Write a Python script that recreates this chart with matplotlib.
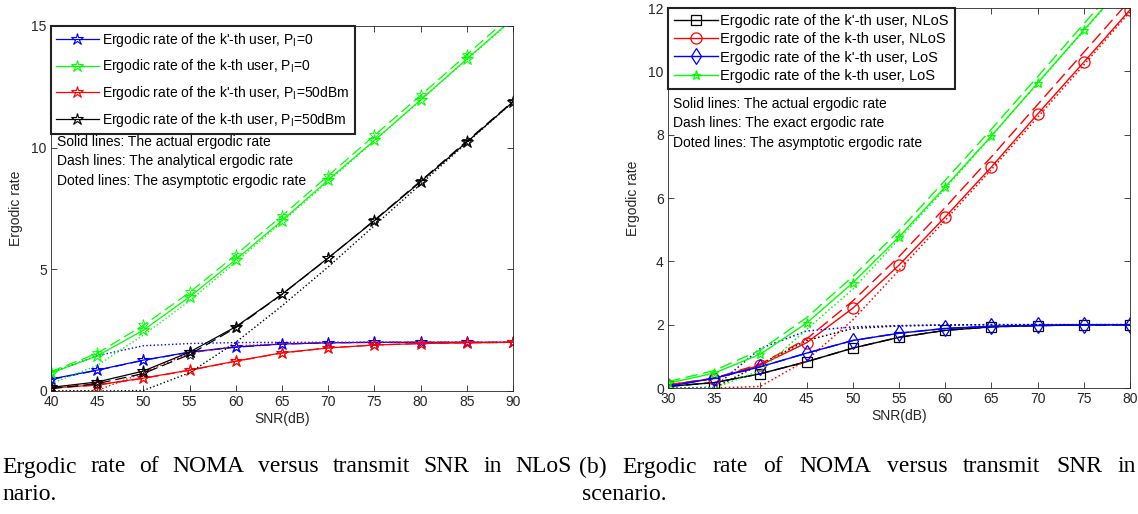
import matplotlib
matplotlib.use('Agg')
import matplotlib.pyplot as plt
import numpy as np

plt.rcParams['font.family'] = ['Liberation Sans', 'DejaVu Sans']

# ---- (a) NLoS scenario ----
snr_a = [40, 45, 50, 55, 60, 65, 70, 75, 80, 85, 90]

blue_act = [0.49, 0.86, 1.27, 1.60, 1.81, 1.93, 1.98, 2.0, 2.0, 2.0, 2.0]
blue_ana = [0.47, 0.85, 1.26, 1.59, 1.80, 1.93, 1.98, 2.0, 2.0, 2.0, 2.0]
blue_asy = [0.75, 1.45, 1.86, 1.95, 1.99, 2.0, 2.0, 2.0, 2.0, 2.0, 2.0]

green_act = [0.74, 1.44, 2.50, 3.87, 5.40, 7.00, 8.67, 10.30, 11.96, 13.64, 15.30]
green_ana = [0.80, 1.55, 2.70, 4.05, 5.60, 7.20, 8.85, 10.50, 12.15, 13.82, 15.50]
green_asy = [0.30, 1.05, 2.30, 3.70, 5.30, 6.95, 8.62, 10.28, 11.95, 13.62, 15.28]

red_act = [0.12, 0.25, 0.53, 0.86, 1.23, 1.57, 1.77, 1.89, 1.95, 1.98, 2.0]
red_ana = [0.12, 0.24, 0.52, 0.85, 1.22, 1.56, 1.77, 1.89, 1.95, 1.98, 2.0]
red_asy = [0.0, 0.02, 0.75, 1.55, 1.85, 1.95, 1.99, 2.0, 2.0, 2.0, 2.0]

black_act = [0.15, 0.37, 0.82, 1.60, 2.64, 3.98, 5.47, 7.00, 8.60, 10.23, 11.88]
black_ana = [0.10, 0.30, 0.72, 1.50, 2.60, 3.97, 5.46, 7.02, 8.63, 10.27, 11.90]
black_asy = [0.0, 0.0, 0.02, 0.75, 2.0, 3.50, 5.10, 6.80, 8.50, 10.20, 11.88]

labels_a = ["Ergodic rate of the k'-th user, P$_\\mathregular{I}$=0",
            "Ergodic rate of the k-th user, P$_\\mathregular{I}$=0",
            "Ergodic rate of the k'-th user, P$_\\mathregular{I}$=50dBm",
            "Ergodic rate of the k-th user, P$_\\mathregular{I}$=50dBm"]

# ---- (b) NLoS vs LoS ----
snr_b = [30, 35, 40, 45, 50, 55, 60, 65, 70, 75, 80]

kp_nlos_act = [0.05, 0.17, 0.45, 0.83, 1.26, 1.60, 1.82, 1.93, 1.97, 1.99, 2.0]
kp_nlos_ana = [0.05, 0.17, 0.45, 0.83, 1.26, 1.60, 1.82, 1.93, 1.97, 1.99, 2.0]
kp_nlos_asy = [0.0, 0.0, 0.75, 1.50, 1.88, 1.96, 1.99, 2.0, 2.0, 2.0, 2.0]

k_nlos_act = [0.10, 0.30, 0.72, 1.43, 2.52, 3.88, 5.40, 6.98, 8.65, 10.29, 11.94]
k_nlos_ana = [0.10, 0.31, 0.76, 1.55, 2.75, 4.15, 5.70, 7.30, 8.95, 10.60, 12.25]
k_nlos_asy = [0.0, 0.0, 0.05, 0.88, 2.15, 3.72, 5.30, 6.90, 8.55, 10.20, 11.88]

kp_los_act = [0.05, 0.31, 0.67, 1.10, 1.50, 1.73, 1.88, 1.95, 1.98, 2.0, 2.0]
kp_los_ana = [0.05, 0.31, 0.67, 1.10, 1.50, 1.73, 1.88, 1.95, 1.98, 2.0, 2.0]
kp_los_asy = [0.0, 0.02, 1.25, 1.80, 1.93, 1.97, 1.99, 2.0, 2.0, 2.0, 2.0]

k_los_act = [0.15, 0.47, 1.07, 2.05, 3.32, 4.77, 6.35, 7.96, 9.63, 11.30, 12.95]
k_los_ana = [0.20, 0.55, 1.20, 2.22, 3.52, 4.97, 6.56, 8.17, 9.83, 11.50, 13.15]
k_los_asy = [0.0, 0.0, 0.55, 1.85, 3.12, 4.70, 6.30, 7.95, 9.62, 11.28, 12.95]

labels_b = ["Ergodic rate of the k'-th user, NLoS",
            "Ergodic rate of the k-th user, NLoS",
            "Ergodic rate of the k'-th user, LoS",
            "Ergodic rate of the k-th user, LoS"]

notes_a = ["Solid lines: The actual ergodic rate",
           "Dash lines: The analytical ergodic rate",
           "Doted lines: The asymptotic ergodic rate"]
notes_b = ["Solid lines: The actual ergodic rate",
           "Dash lines: The exact ergodic rate",
           "Doted lines: The asymptotic ergodic rate"]

caption_a = "Ergodic rate of NOMA versus transmit SNR in NLoS"
caption_b = "(b) Ergodic rate of NOMA versus transmit SNR in"

W, H = 1138, 514
fig = plt.figure(figsize=(W / 100, H / 100), dpi=100)

def box(l, t, r, b):
    return [l / W, 1 - b / H, (r - l) / W, (b - t) / H]

axcol = '#262626'
fs = 10

def style(ax):
    for s in ax.spines.values():
        s.set_color(axcol)
        s.set_linewidth(0.6)
    ax.tick_params(direction='in', top=True, right=True, colors=axcol,
                   labelsize=fs, length=4, width=0.6, pad=3)
    ax.set_xlabel('SNR(dB)', fontsize=fs, color=axcol, labelpad=2)
    ax.set_ylabel('Ergodic rate', fontsize=fs, color=axcol, labelpad=6)

dash = (0, (9, 4))

# ---------------- left panel ----------------
ax1 = fig.add_axes(box(51, 26, 513, 391))
handles = []
for col, act, ana, asy in [('#0000ff', blue_act, blue_ana, blue_asy),
                           ('#00ff00', green_act, green_ana, green_asy),
                           ('#ff0000', red_act, red_ana, red_asy),
                           ('#000000', black_act, black_ana, black_asy)]:
    h, = ax1.plot(snr_a, act, '-', color=col, lw=0.9, marker='*', ms=9,
                  mfc='none', mew=0.8)
    ax1.plot(snr_a, ana, linestyle=dash, color=col, lw=0.9, marker='*', ms=8,
             mfc='none', mew=0.6)
    ax1.plot(snr_a, asy, ':', color=col, lw=1.0)
    handles.append(h)
ax1.set_xlim(40, 90)
ax1.set_ylim(0, 15)
ax1.set_xticks(snr_a)
ax1.set_yticks([0, 5, 10, 15])
style(ax1)
leg = ax1.legend(handles, labels_a, loc='upper left', fontsize=fs,
                 bbox_to_anchor=(0.0, 1.0), borderaxespad=0, handlelength=3.1,
                 handletextpad=0.25, labelspacing=0.62, fancybox=False,
                 borderpad=0.35, framealpha=1)
leg.get_frame().set_edgecolor('#222222')
leg.get_frame().set_linewidth(1.5)
for i, s in enumerate(notes_a):
    ax1.text(57, H - (142 + 19.5 * i), s, transform=None, fontsize=fs, va='center')

# ---------------- right panel ----------------
ax2 = fig.add_axes(box(668, 8, 1130, 388))
handles = []
for col, mk, act, ana, asy in [('#000000', 's', kp_nlos_act, kp_nlos_ana, kp_nlos_asy),
                               ('#ff0000', 'o', k_nlos_act, k_nlos_ana, k_nlos_asy),
                               ('#0000ff', 'd', kp_los_act, kp_los_ana, kp_los_asy),
                               ('#00ff00', '*', k_los_act, k_los_ana, k_los_asy)]:
    ms = 8 if mk in ('o', 'd') else 6.5
    h, = ax2.plot(snr_b, act, '-', color=col, lw=1.0, marker=mk, ms=ms,
                  mfc='none', mew=0.9)
    ax2.plot(snr_b, ana, linestyle=dash, color=col, lw=1.0)
    ax2.plot(snr_b, asy, ':', color=col, lw=1.1)
    handles.append(h)
ax2.set_xlim(30, 80)
ax2.set_ylim(0, 12)
ax2.set_xticks(snr_b)
ax2.set_yticks([0, 2, 4, 6, 8, 10, 12])
style(ax2)
leg = ax2.legend(handles, labels_b, loc='upper left', fontsize=10.5,
                 bbox_to_anchor=(0.0, 1.0), borderaxespad=0, handlelength=3.0,
                 handletextpad=0.2, labelspacing=0.3, fancybox=False,
                 borderpad=0.4, framealpha=1)
leg.get_frame().set_edgecolor('#222222')
leg.get_frame().set_linewidth(1.5)
for i, s in enumerate(notes_b):
    ax2.text(673, H - (104 + 19.5 * i), s, transform=None, fontsize=fs, va='center')

# ---------------- captions (justified by hand) ----------------
cap = dict(transform=None, fontsize=17, family=['Liberation Serif', 'DejaVu Serif'],
           va='center')

def justify(words, x0, x1, y):
    r = fig.canvas.get_renderer()
    arts = [fig.text(0, 0, w, **cap) for w in words]
    widths = [a.get_window_extent(r).width for a in arts]
    gap = (x1 - x0 - sum(widths)) / (len(words) - 1)
    x = x0
    for a, w in zip(arts, widths):
        a.set_position((x, H - y))
        x += w + gap

justify(caption_a.split(), 2, 572, 467)
fig.text(2, H - 495, 'nario.', ha='left', **cap)
justify(caption_b.split(), 579, 1136, 467)
fig.text(582, H - 495, 'scenario.', ha='left', **cap)

fig.savefig('out.png', dpi=100)
